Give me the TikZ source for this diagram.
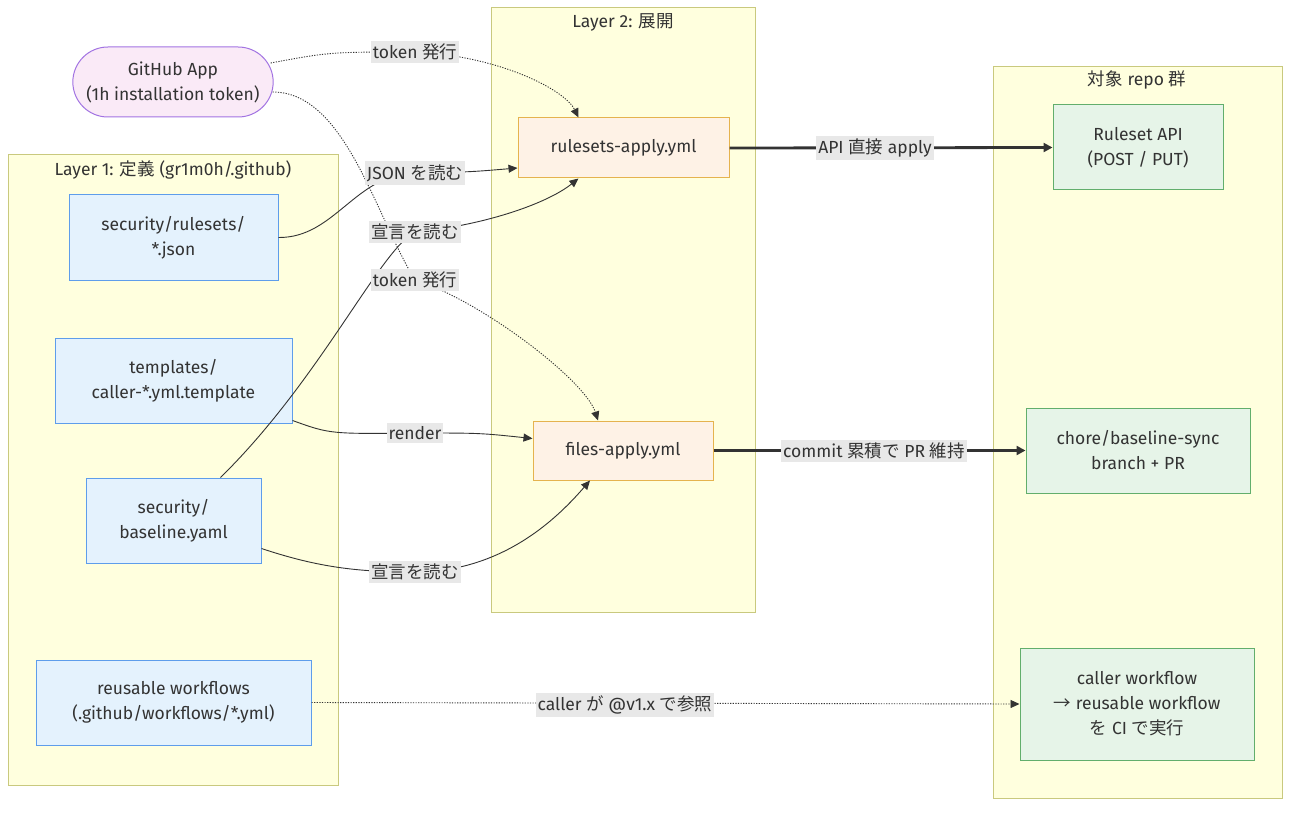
\documentclass[tikz,border=0pt]{standalone}
\usepackage{fontspec}
\setmainfont{Fira Sans}
\newfontfamily\jp{Noto Sans CJK JP}
\usetikzlibrary{arrows.meta,shapes.misc,calc}
\definecolor{txt}{HTML}{333333}
\definecolor{clfill}{HTML}{FFFFDE}
\definecolor{cldraw}{HTML}{C9C97E}
\definecolor{deffill}{HTML}{E4F2FD}
\definecolor{defdraw}{HTML}{5E9DEB}
\definecolor{wffill}{HTML}{FEF2E6}
\definecolor{wfdraw}{HTML}{E5B34E}
\definecolor{repofill}{HTML}{E6F4E8}
\definecolor{repodraw}{HTML}{62AE6C}
\definecolor{appfill}{HTML}{FAEAF7}
\definecolor{appdraw}{HTML}{A273E2}
\definecolor{lblfill}{HTML}{E8E8E8}

\begin{document}
\begin{tikzpicture}[x=1pt,y=-1pt,
    every node/.style={font=\fontsize{17.5}{25}\selectfont,text=txt},
    cluster/.style={draw=cldraw,fill=clfill,line width=1pt},
    ctitle/.style={inner sep=0pt},
    defbox/.style={draw=defdraw,fill=deffill,line width=1pt,align=center,minimum height=85pt},
    wfbox/.style={draw=wfdraw,fill=wffill,line width=1pt,align=center,minimum height=60pt},
    repobox/.style={draw=repodraw,fill=repofill,line width=1pt,align=center,minimum height=85pt},
    lbl/.style={fill=lblfill,inner xsep=2pt,inner ysep=3pt},
    link/.style={draw=txt,line width=0.9pt,-{Triangle[length=9pt,width=8pt]}},
    tok/.style={link,dash pattern=on 1.2pt off 1.4pt},
    heavy/.style={draw=txt,line width=2.8pt,-{Triangle[length=9pt,width=9pt]}}]
\useasboundingbox (0,0) rectangle (1300,813);

\draw[cluster] (8,155) rectangle (338,785);
\draw[cluster] (491,8) rectangle (755,612);
\draw[cluster] (993,67) rectangle (1282,798);
\node[ctitle] (t1) at (173,170) {Layer 1: {\jp 定義} (gr1m0h/.github)};
\node[ctitle] (t2) at (623,22) {Layer 2: {\jp 展開}};
\node[ctitle] (t3) at (1137,80) {{\jp 対象} repo {\jp 群}};

\node[rounded rectangle,draw=appdraw,fill=appfill,line width=1pt,align=center,
  minimum width=207pt,minimum height=70pt] (app) at (173,82) {GitHub App\\(1h installation token)};
\node[defbox,minimum width=209pt] (json) at (173.5,237.5) {security/rulesets/\\*.json};
\node[defbox,minimum width=237pt] (tpl) at (173.5,380.5) {templates/\\caller-*.yml.template};
\node[defbox,minimum width=175pt] (base) at (173.5,520.5) {security/\\baseline.yaml};
\node[defbox,minimum width=275pt] (reuse) at (173.5,702.5) {reusable workflows\\(.github/workflows/*.yml)};
\node[wfbox,minimum width=211pt] (rap) at (623.5,148) {rulesets-apply.yml};
\node[wfbox,minimum width=180pt,minimum height=59pt] (fap) at (623,450.5) {files-apply.yml};
\node[repobox,minimum width=170pt] (rapi) at (1138,147.5) {Ruleset API\\(POST / PUT)};
\node[repobox,minimum width=224pt] (chore) at (1138,450.5) {chore/baseline-sync\\branch + PR};
\node[repobox,minimum width=234pt,minimum height=112pt] (caller) at (1137,704) {caller workflow\\{\jp →} reusable workflow\\{\jp を} CI {\jp で実行}};

\coordinate (c1) at (415,52);
\coordinate (c2) at (415,280);
\coordinate (c3) at (415,173);
\coordinate (c4) at (415,232);
\coordinate (c5) at (415,433);
\coordinate (c6) at (415,572);
\coordinate (c7) at (875,148);
\coordinate (c8) at (874,451);
\coordinate (c9) at (625,705);

\draw[tok] ($(app.east)+(-3,-19)$) .. controls (330,52) .. (c1) .. controls (500,56) and (565,90) .. ($(rap.north)+(-45,0)$);
\draw[tok] ($(app.east)+(-1,10)$) .. controls (345,92) and (375,215) .. (c2) .. controls (480,300) and (585,380) .. ($(fap.north)+(-25,0)$);
\draw[link] (json.east) .. controls (335,238) and (355,174) .. (c3) .. controls (470,172) .. ($(rap.west)+(0,20)$);
\draw[link] ($(base.north)+(47,0)$) .. controls (320,380) and (380,250) .. (c4) .. controls (480,226) and (545,205) .. ($(rap.south)+(-45,0)$);
\draw[link] ($(tpl.south east)+(0,-3)$) .. controls (330,434) .. (c5) .. controls (480,433) .. ($(fap.west)+(0,-12)$);
\draw[link] ($(base.east)+(0,28)$) .. controls (320,568) and (360,572) .. (c6) .. controls (505,572) and (560,515) .. ($(fap.south)+(-33,0)$);
\draw[heavy] (rap.east) -- (rapi.west);
\draw[heavy] (fap.east) -- (chore.west);
\draw[tok] (reuse.east) -- (caller.west);

\node[lbl] (l1) at (c1) {token {\jp 発行}};
\node[lbl] (l2) at (c2) {token {\jp 発行}};
\node[lbl] (l3) at (c3) {JSON {\jp を読む}};
\node[lbl] (l4) at (c4) {{\jp 宣言を読む}};
\node[lbl] (l5) at (c5) {render};
\node[lbl] (l6) at (c6) {{\jp 宣言を読む}};
\node[lbl] (l7) at (c7) {API {\jp 直接} apply};
\node[lbl] (l8) at (c8) {commit {\jp 累積で} PR {\jp 維持}};
\node[lbl] (l9) at (c9) {caller {\jp が} @v1.x {\jp で参照}};
\end{tikzpicture}
\end{document}
